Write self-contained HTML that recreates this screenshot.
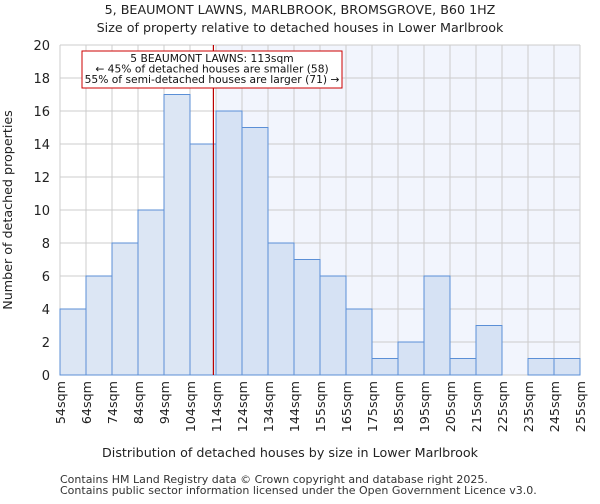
<!DOCTYPE html>
<html><head><meta charset="utf-8"><style>
body{margin:0;background:#fff;font-family:"DejaVu Sans","Liberation Sans",sans-serif}
</style></head><body>
<svg width="600" height="500" xmlns="http://www.w3.org/2000/svg" font-family="DejaVu Sans, Liberation Sans, sans-serif">
<text x="300" y="14" text-anchor="middle" font-size="12.7" fill="#222">5, BEAUMONT LAWNS, MARLBROOK, BROMSGROVE, B60 1HZ</text>
<text x="300" y="32" text-anchor="middle" font-size="12.7" fill="#222">Size of property relative to detached houses in Lower Marlbrook</text>
<g id="plot"></g>
<text x="290" y="457" text-anchor="middle" font-size="12.7" fill="#222">Distribution of detached houses by size in Lower Marlbrook</text>
<text transform="translate(12,210) rotate(-90)" text-anchor="middle" font-size="12.7" fill="#222">Number of detached properties</text>
<text x="60" y="483" font-size="11" fill="#333">Contains HM Land Registry data © Crown copyright and database right 2025.</text>
<text x="60" y="494" font-size="11" fill="#333">Contains public sector information licensed under the Open Government Licence v3.0.</text>
</svg>
<script>
const categories=["54sqm","64sqm","74sqm","84sqm","94sqm","104sqm","114sqm","124sqm","134sqm","144sqm","155sqm","165sqm","175sqm","185sqm","195sqm","205sqm","215sqm","225sqm","235sqm","245sqm","255sqm"];
const counts=[4,6,8,10,17,14,16,15,8,7,6,4,1,2,6,1,3,0,1,1];
const yTicks=[0,2,4,6,8,10,12,14,16,18,20];
const propertyBin=6;
const markerValue=5.9;
const NS="http://www.w3.org/2000/svg";
const X0=60,X1=580,Y0=375,Y1=45;
const bw=(X1-X0)/counts.length;
const xs=i=>X0+i*bw;
const ys=v=>Y0-(v/20)*(Y0-Y1);
const g=document.getElementById('plot');
function el(t,a){const e=document.createElementNS(NS,t);for(const k in a)e.setAttribute(k,a[k]);g.appendChild(e);return e;}
let r=el('rect',{x:X0,y:Y1,width:X1-X0,height:Y0-Y1,fill:'#fff'});


r=el('rect',{x:xs(propertyBin),y:Y1,width:X1-xs(propertyBin),height:Y0-Y1,fill:'#f2f5fd'});


for(let i=0;i<=counts.length;i++){
 const l=el('line',{x1:xs(i),x2:xs(i),y1:Y1,y2:Y0,stroke:'#ccc','stroke-width':1});
 
 
}
yTicks.forEach(v=>{
 const l=el('line',{x1:X0,x2:X1,y1:ys(v),y2:ys(v),stroke:'#ccc','stroke-width':1});
 
 
 const t=el('text',{x:X0-10,y:ys(v)+5,'text-anchor':'end','font-size':13,fill:'#222'});
 t.textContent=v;
 
 
});
counts.forEach((c,i)=>{
 if(c<=0)return;
 const b=el('rect',{x:xs(i),y:ys(c),width:bw,height:Y0-ys(c),fill:i<propertyBin?'#dce6f4':'#d6e2f4',stroke:'#5b8fd6','stroke-width':1});
 
 
});
categories.forEach((c,i)=>{
 const t=el('text',{transform:`translate(${xs(i)+5},381) rotate(-90)`,'text-anchor':'end','font-size':12.7,fill:'#222'});
 t.textContent=c;
 
 
});
const mx=xs(markerValue);
let m=el('line',{x1:mx,x2:mx,y1:Y1,y2:Y0,stroke:'#b00','stroke-width':1.2});


let bx=el('rect',{x:82,y:51,width:260,height:37,fill:'#fff',stroke:'#c00','stroke-width':1});


["5 BEAUMONT LAWNS: 113sqm","← 45% of detached houses are smaller (58)","55% of semi-detached houses are larger (71) →"].forEach((s,i)=>{
 const t=el('text',{x:212,y:62+i*10.5,'text-anchor':'middle','font-size':10.7,fill:'#111'});
 t.textContent=s;
 
 
});
</script>
</body></html>
